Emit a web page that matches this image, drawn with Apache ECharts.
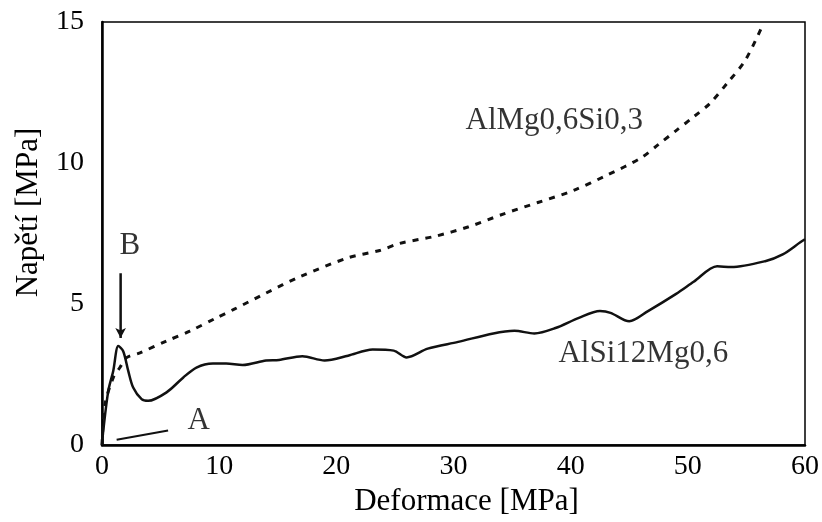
<!DOCTYPE html>
<html>
<head>
<meta charset="utf-8">
<script src="https://cdn.jsdelivr.net/npm/echarts@6/dist/echarts.min.js"></script>
<style>
  html, body { margin: 0; padding: 0; background: #fff; }
  #chart { width: 822px; height: 522px; }
</style>
</head>
<body>
<div id="chart"></div>
<script>
const FONT = '"Liberation Serif", "Times New Roman", serif';

// AlSi12Mg0,6 (solid)
const solidX = [0, 0.11, 0.54, 0.96, 1.39, 1.81, 2.24, 2.66, 3.38, 3.94, 5.51, 6.92, 8.06, 9.47, 10.6, 12.0, 14.0, 15.1, 17.1, 19.0, 21.0, 23.1, 24.9, 26.0, 27.8, 30.4, 33.4, 35.2, 36.9, 38.7, 40.7, 42.5, 43.4, 45.0, 46.6, 49.0, 50.5, 52.5, 53.7, 56.6, 58.1, 59.6, 60];
const solidY = [0, 0.52, 1.93, 2.63, 3.51, 3.33, 2.63, 2.04, 1.63, 1.57, 1.87, 2.39, 2.75, 2.89, 2.89, 2.84, 3.0, 3.02, 3.15, 3.0, 3.17, 3.39, 3.35, 3.11, 3.42, 3.66, 3.96, 4.05, 3.96, 4.15, 4.51, 4.75, 4.69, 4.39, 4.75, 5.36, 5.79, 6.34, 6.31, 6.52, 6.76, 7.19, 7.3];

// AlMg0,6Si0,3 (dashed)
const dashX = [0, 0.26, 0.96, 1.53, 2.1, 3.23, 5.51, 7.49, 9.76, 11.2, 14.0, 16.9, 21.0, 23.7, 25.4, 28.4, 31.3, 34.3, 37.2, 40.2, 43.1, 46.0, 47.5, 49.0, 50.5, 51.9, 53.4, 54.9, 56.4];
const dashY = [0, 1.45, 2.39, 2.75, 3.1, 3.27, 3.69, 4.04, 4.51, 4.8, 5.39, 5.97, 6.64, 6.9, 7.15, 7.4, 7.74, 8.2, 8.6, 9.02, 9.57, 10.18, 10.66, 11.15, 11.64, 12.12, 12.85, 13.64, 14.9];

// curve A
const lineAX = [1.25, 5.64];
const lineAY = [0.19, 0.52];

// arrow at B
const arrowBX = [1.59, 1.59];
const arrowBY = [6.09, 3.8];

// text labels
const labelText = ['AlMg0,6Si0,3', 'AlSi12Mg0,6', 'B', 'A'];
const labelX = [38.6, 46.2, 2.38, 8.26];
const labelY = [11.5, 3.24, 7.06, 0.85];

const xTicks = [0, 10, 20, 30, 40, 50, 60];
const yTicks = [0, 5, 10, 15];

const zip = (xs, ys) => xs.map((x, i) => [x, ys[i]]);

const chart = echarts.init(document.getElementById('chart'), null, {renderer: 'canvas'});

const option = {
  animation: false,
  backgroundColor: '#fff',
  grid: {
    left: 102,
    right: 15,
    top: 22,
    bottom: 74,
    show: true,
    borderColor: '#000',
    borderWidth: 1.5
  },
  xAxis: {
    type: 'value',
    min: xTicks[0],
    max: xTicks[xTicks.length - 1],
    interval: 10,
    name: 'Deformace [MPa]',
    nameLocation: 'middle',
    nameGap: 36,
    nameTextStyle: {fontFamily: FONT, fontSize: 31, color: '#000', padding: [0, 0, 0, 26]},
    axisLine: {show: true, lineStyle: {color: '#000', width: 2.5}},
    axisTick: {show: false},
    splitLine: {show: false},
    axisLabel: {fontFamily: FONT, fontSize: 28, color: '#000', margin: 8}
  },
  yAxis: {
    type: 'value',
    min: yTicks[0],
    max: yTicks[yTicks.length - 1],
    interval: 5,
    name: 'Napětí [MPa]',
    nameLocation: 'middle',
    nameGap: 58,
    nameRotate: 90,
    nameTextStyle: {fontFamily: FONT, fontSize: 31, color: '#000', padding: [0, 0, 0, 42]},
    axisLine: {show: true, lineStyle: {color: '#000', width: 2.5}},
    axisTick: {show: false},
    splitLine: {show: false},
    axisLabel: {fontFamily: FONT, fontSize: 28, color: '#000', margin: 18}
  },
  series: [
    {
      name: 'AlSi12Mg0,6',
      type: 'line',
      data: zip(solidX, solidY),
      smooth: 0.3,
      showSymbol: false,
      lineStyle: {color: '#111', width: 2.5}
    },
    {
      name: 'AlMg0,6Si0,3',
      type: 'line',
      data: zip(dashX, dashY),
      smooth: 0.3,
      showSymbol: false,
      lineStyle: {color: '#111', width: 3, type: [6, 7]}
    },
    {
      name: 'A',
      type: 'line',
      data: zip(lineAX, lineAY),
      showSymbol: false,
      lineStyle: {color: '#111', width: 2}
    },
    {
      name: 'B',
      type: 'line',
      data: zip(arrowBX, arrowBY).map((p, i) => ({
        value: p,
        symbol: i === 0 ? 'none' : 'arrow',
        symbolSize: [8, 10],
        symbolRotate: 180
      })),
      showSymbol: true,
      itemStyle: {color: '#111'},
      lineStyle: {color: '#111', width: 2.5}
    },
    {
      name: 'labels',
      type: 'scatter',
      symbolSize: 0,
      data: labelText.map((t, i) => ({value: [labelX[i], labelY[i]], name: t})),
      label: {
        show: true,
        position: 'inside',
        formatter: p => p.name,
        fontFamily: FONT,
        fontSize: 31,
        color: '#000'
      }
    }
  ]
};

chart.setOption(option);
</script>
</body>
</html>
